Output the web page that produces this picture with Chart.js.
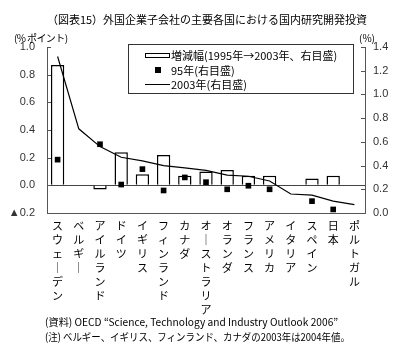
<!DOCTYPE html>
<html><head><meta charset="utf-8">
<script src="https://cdn.jsdelivr.net/npm/chart.js@4.4.1/dist/chart.umd.min.js"></script>
<style>
html,body{margin:0;padding:0;background:#fff}
body{width:420px;height:351px;overflow:hidden;position:relative;font-family:"Noto Sans CJK JP",sans-serif;color:#000}
#wrap{position:absolute;left:0;top:0;width:420px;height:351px}
.t{position:absolute;white-space:nowrap;font-size:11px;line-height:1}
#legend{position:absolute;left:128px;top:44px;width:224px;height:48px;border:1px solid #333;background:#fff}
#legend .row{position:absolute;left:16px;height:14px;font-size:11px;line-height:14px;white-space:nowrap}
#legend .sw{display:inline-block;width:25px;height:14px;position:relative;vertical-align:top;margin-right:1px}
.fn{font-size:10.5px;transform-origin:0 0}
</style></head><body>
<div id="wrap"><canvas id="c" width="420" height="351"></canvas></div>
<div class="t" style="left:0;width:414px;text-align:center;top:14px">（図表15）外国企業子会社の主要各国における国内研究開発投資</div>
<div class="t" style="left:14px;top:33px;font-size:10px;letter-spacing:-0.6px">(% ポイント)</div>
<div class="t" style="left:359px;top:33px;font-size:10px">(%)</div>
<div id="legend">
  <div class="row" style="top:3px"><span class="sw"><span style="position:absolute;left:0;top:5px;width:23px;height:3px;border:1px solid #000"></span></span>増減幅(1995年→2003年、右目盛)</div>
  <div class="row" style="top:18px"><span class="sw"><span style="position:absolute;left:10px;top:4px;width:6px;height:6px;background:#000"></span></span>95年(右目盛)</div>
  <div class="row" style="top:32px"><span class="sw"><span style="position:absolute;left:0;top:7px;width:25px;height:1px;background:#000"></span></span>2003年(右目盛)</div>
</div>
<div class="t fn" style="left:45px;top:317px;transform:scaleX(0.97)">(資料) OECD “Science, Technology and Industry Outlook 2006”</div>
<div class="t fn" style="left:45px;top:332px;transform:scaleX(0.9)">(注) ベルギー、イギリス、フィンランド、カナダの2003年は2004年値。</div>
<script>
const countries = ["スウェーデン","ベルギー","アイルランド","ドイツ","イギリス","フィンランド","カナダ","オーストラリア","オランダ","フランス","アメリカ","イタリア","スペイン","日本","ポルトガル"];
const change1995to2003 = [0.87, null, -0.03, 0.24, 0.08, 0.22, 0.07, 0.10, 0.11, 0.07, 0.07, null, 0.05, 0.07, null];
const level1995 = [0.45, null, 0.58, 0.24, 0.37, 0.19, 0.30, 0.26, 0.20, 0.23, 0.20, null, 0.10, 0.03, null];
const level2003 = [1.32, 0.71, 0.56, 0.47, 0.44, 0.40, 0.38, 0.36, 0.32, 0.31, 0.27, 0.16, 0.15, 0.10, 0.07];
const leftTicks = [-0.2, 0.0, 0.2, 0.4, 0.6, 0.8, 1.0];
const rightTicks = [0.0, 0.2, 0.4, 0.6, 0.8, 1.0, 1.2, 1.4];

const verticalLabels = countries.map(s => Array.from(s).map(ch => ch === 'ー' ? '｜' : ch));

const innerTicks = {
  id: 'innerTicks',
  afterDraw(chart) {
    const ctx = chart.ctx, y = chart.scales.y, y2 = chart.scales.y2;
    ctx.save();
    ctx.strokeStyle = '#555';
    ctx.lineWidth = 1;
    ctx.beginPath();
    y.ticks.forEach(t => { const p = Math.round(y.getPixelForValue(t.value)) + 0.5; ctx.moveTo(y.right, p); ctx.lineTo(y.right + 4, p); });
    y2.ticks.forEach(t => { const p = Math.round(y2.getPixelForValue(t.value)) + 0.5; ctx.moveTo(y2.left, p); ctx.lineTo(y2.left - 4, p); });
    ctx.stroke();
    ctx.restore();
  }
};

const numFont = {family: '"Liberation Sans", Arial, sans-serif', size: 11};

new Chart(document.getElementById('c'), {
  data: {
    labels: verticalLabels,
    datasets: [
      {type: 'bar', label: '増減幅(1995年→2003年、右目盛)', data: change1995to2003, yAxisID: 'y',
       backgroundColor: '#fff', borderColor: '#000', borderWidth: 1.5, barPercentage: 0.63, categoryPercentage: 1, order: 3},
      {type: 'line', label: '2003年(右目盛)', data: level2003, yAxisID: 'y2',
       borderColor: '#000', borderWidth: 1.2, tension: 0, pointRadius: 0, fill: false, order: 2},
      {type: 'line', label: '95年(右目盛)', data: level1995, yAxisID: 'y2', showLine: false,
       pointStyle: 'rect', pointRadius: 4, backgroundColor: '#000', borderColor: '#000', borderWidth: 0, order: 1}
    ]
  },
  options: {
    responsive: false, animation: false, devicePixelRatio: 1,
    layout: {padding: {top: 47, left: 0, right: 0, bottom: 0}},
    plugins: {legend: {display: false}, tooltip: {enabled: false}, title: {display: false}},
    scales: {
      x: {
        type: 'category', offset: true,
        grid: {display: false, drawTicks: false},
        border: {display: true, color: '#555', width: 1},
        ticks: {autoSkip: false, maxRotation: 0, minRotation: 0, padding: 6, color: '#000',
                font: {family: '"Noto Sans CJK JP", sans-serif', size: 11, lineHeight: 1.27}},
        afterFit(s) { s.height = 138; }
      },
      y: {
        position: 'left', min: leftTicks[0], max: leftTicks[leftTicks.length - 1],
        afterBuildTicks(s) { s.ticks = leftTicks.map(v => ({value: v})); },
        grid: {drawTicks: false, color: c => Math.abs(c.tick.value) < 1e-9 ? '#444' : 'rgba(0,0,0,0)', lineWidth: 1},
        border: {display: true, color: '#555', width: 1},
        ticks: {padding: 12, color: '#333', font: numFont,
                callback: v => v < -1e-9 ? '▲' + Math.abs(v).toFixed(1) : Math.abs(v).toFixed(1)},
        afterFit(s) { s.width = 47; }
      },
      y2: {
        position: 'right', min: rightTicks[0], max: rightTicks[rightTicks.length - 1],
        afterBuildTicks(s) { s.ticks = rightTicks.map(v => ({value: v})); },
        grid: {display: false, drawTicks: false},
        border: {display: true, color: '#555', width: 1},
        ticks: {padding: 8, color: '#333', font: numFont,
                callback: v => Math.abs(v).toFixed(1)},
        afterFit(s) { s.width = 55; }
      }
    }
  },
  plugins: [innerTicks]
});
</script>
</body></html>
